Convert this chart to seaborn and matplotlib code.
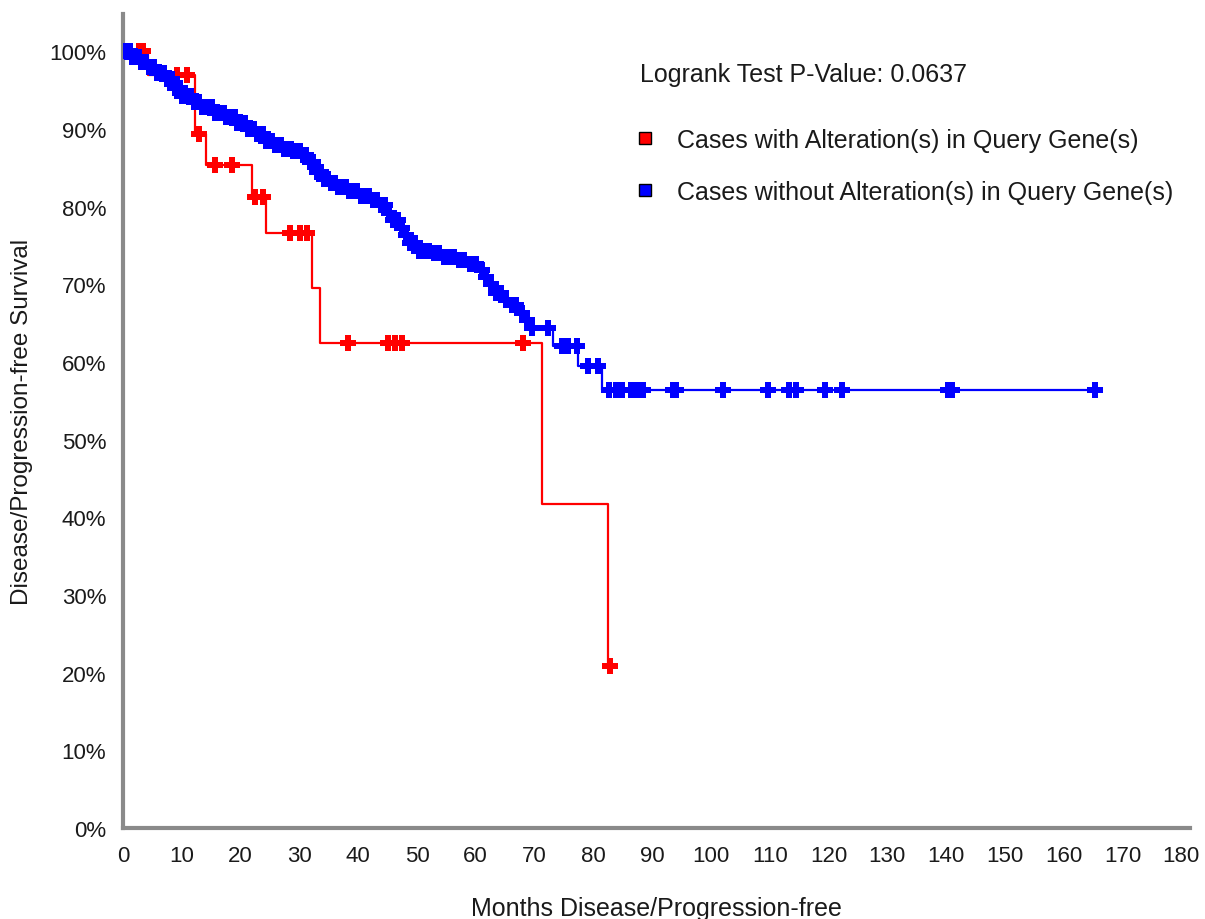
import numpy as np
import pandas as pd
import matplotlib
matplotlib.use('Agg')
import matplotlib.pyplot as plt
from matplotlib.lines import Line2D
import seaborn as sns

# Kaplan-Meier steps (months, % surviving after each drop)
alt_time = [0, 4.3, 12.2, 14.2, 22.0, 24.3, 32.2, 33.5, 71.3, 82.5]
alt_surv = [100, 96.9, 89.4, 85.4, 81.2, 76.6, 69.5, 62.5, 41.7, 20.8]
alt_cens = [2.8, 3.4, 9.2, 10.9, 13.0, 15.6, 18.5, 22.5, 23.8, 28.4, 30.1, 31.3,
            38.3, 45.0, 46.3, 47.4, 68.0, 82.8]

unalt_time = [0, 1.5, 3.0, 4.2, 5.6, 7.1, 8.6, 10.0, 11.7, 13.4, 15.3, 17.3,
              19.3, 21.3, 22.8, 24.2, 25.6, 27.2, 29.0, 30.6, 31.8, 33.0,
              34.2, 35.3, 36.4, 38.0, 40.0, 42.0, 43.5, 45.0, 46.0, 47.0,
              48.0, 48.9, 50.0, 52.2, 53.9, 56.8, 58.8, 60.5, 61.5, 62.4,
              63.4, 64.5, 66.0, 67.2, 68.5, 69.4, 73.2, 77.4, 81.5]
unalt_surv = [100, 99.3, 98.6, 98.0, 97.2, 96.4, 95.3, 94.3, 93.5, 92.8, 92.1,
              91.5, 90.8, 90.0, 89.3, 88.5, 87.9, 87.4, 87.1, 86.7, 85.8, 84.5,
              83.6, 83.0, 82.5, 82.0, 81.4, 80.9, 80.2, 79.2, 78.3, 77.3, 76.3,
              75.3, 74.3, 74.0, 73.5, 73.1, 72.6, 71.8, 70.9, 70.0, 68.9, 68.0,
              67.3, 66.3, 65.4, 64.4, 62.0, 59.5, 56.4]
unalt_cens = [0.3, 0.6, 0.9, 1.2, 1.6, 2.0, 2.3, 2.7, 3.1, 3.5, 3.9, 4.4, 4.8,
              5.2, 5.7, 6.1, 6.6, 7.0, 7.4, 7.9, 8.3, 8.8, 9.2, 9.7, 10.1, 10.6,
              11.0, 11.5, 12.0, 12.4, 12.9, 13.4, 13.8, 14.3, 14.8, 15.2, 15.7,
              16.2, 16.6, 17.1, 17.6, 18.0, 18.5, 19.0, 19.4, 19.9, 20.4, 20.8,
              21.3, 21.8, 22.3, 22.8, 23.3, 23.8, 24.3, 24.8, 25.3, 25.8, 26.4,
              26.9, 27.4, 28.0, 28.5, 29.0, 29.6, 30.1, 30.7, 31.2, 31.8, 32.4,
              33.0, 33.6, 34.2, 34.8, 35.4, 36.0, 36.6, 37.2, 37.9, 38.5, 39.2,
              39.8, 40.5, 41.1, 41.8, 42.5, 43.2, 43.9, 44.6, 45.3, 46.0, 46.7,
              47.4, 48.1, 48.9, 49.6, 50.4, 51.2, 52.0, 52.9, 53.7, 54.6, 55.4,
              56.3, 57.1, 58.0, 59.0, 60.0, 61.0, 61.8, 62.6, 63.4, 64.3, 65.2,
              66.1, 66.9, 67.8, 68.7, 69.6, 72.3, 74.7, 75.7, 77.2, 79.1, 80.8,
              82.6, 83.9, 84.9, 86.4, 87.5, 88.4, 93.6, 94.1, 102.0, 109.8,
              113.3, 114.5, 119.4, 122.3, 140.3, 141.1, 165.3]

pvalue_text = 'Logrank Test P-Value: 0.0637'
labels = ['Cases with Alteration(s) in Query Gene(s)',
          'Cases without Alteration(s) in Query Gene(s)']
colors = ['#ff0000', '#0000ff']


def km_frames(times, surv, cens):
    # step line runs until the last censored case
    line = pd.DataFrame({'month': list(times) + [max(cens)],
                         'surv': list(surv) + [surv[-1]]})
    idx = np.searchsorted(times, cens, side='right') - 1
    marks = pd.DataFrame({'month': cens, 'surv': np.array(surv)[idx]})
    return line, marks


sns.set_style('white')
plt.rcParams['font.family'] = ['Liberation Sans', 'DejaVu Sans']

fig = plt.figure(figsize=(12.05, 9.2), dpi=100)
ax = fig.add_axes([123 / 1205, 1 - 829 / 920, 1067 / 1205, 814 / 920])

groups = [(alt_time, alt_surv, alt_cens), (unalt_time, unalt_surv, unalt_cens)]
for (t, s, c), col in zip(groups, colors):
    line, marks = km_frames(t, s, c)
    sns.lineplot(data=line, x='month', y='surv', color=col, lw=1.6,
                 drawstyle='steps-post', estimator=None, sort=False, ax=ax)
    sns.scatterplot(data=marks, x='month', y='surv', marker='P', s=125,
                    color=col, linewidth=0, ax=ax, zorder=3)

ax.set_xlim(0, 181.5)
ax.set_ylim(0, 104.8)
ax.set_xticks(range(0, 181, 10))
ax.set_yticks(range(0, 101, 10))
ax.set_yticklabels([f'{v}%' for v in range(0, 101, 10)])

for side in ['top', 'right']:
    ax.spines[side].set_visible(False)
for side in ['left', 'bottom']:
    ax.spines[side].set_color('#8a8a8a')
    ax.spines[side].set_linewidth(3)
ax.tick_params(axis='both', length=8, width=2, color='#8a8a8a',
               labelsize=16, labelcolor='#1a1a1a', pad=4)

ax.set_xlabel('Months Disease/Progression-free', fontsize=18,
              color='#1a1a1a', labelpad=22)
ax.set_ylabel('Disease/Progression-free Survival', fontsize=17.5,
              color='#1a1a1a', labelpad=12)

# p-value and legend
fig.text(640 / 1205, 1 - 75 / 920, pvalue_text, fontsize=18,
         color='#1a1a1a', va='center', ha='left')
handles = [Line2D([], [], ls='', marker='s', ms=9, mfc=c, mec='black', mew=1)
           for c in colors]
fig.legend(handles, labels, loc='upper left',
           bbox_to_anchor=(638 / 1205, 1 - 129 / 920), frameon=False,
           fontsize=18, handlelength=0.55, handletextpad=1.0,
           labelspacing=1.12, borderpad=0, borderaxespad=0,
           labelcolor='#1a1a1a')

fig.savefig('out.png', dpi=100)
